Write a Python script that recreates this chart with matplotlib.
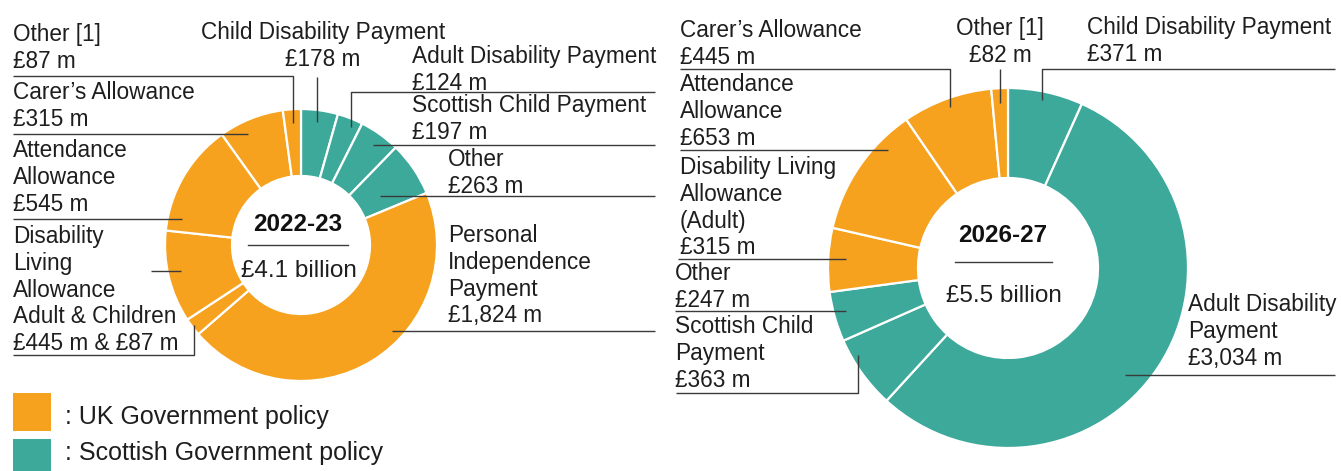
import matplotlib
matplotlib.use("Agg")
import matplotlib.pyplot as plt
from matplotlib.patches import Rectangle

plt.rcParams['font.family'] = ['Liberation Sans', 'DejaVu Sans']

# data, clockwise from 12 o'clock
left_values = [178, 124, 197, 263, 1824, 87, 445, 545, 315, 87]
left_policy = ["SG", "SG", "SG", "SG", "UK", "UK", "UK", "UK", "UK", "UK"]
left_year = "2022-23"
left_total = "£4.1 billion"

right_values = [371, 3034, 363, 247, 315, 653, 445, 82]
right_policy = ["SG", "SG", "SG", "SG", "UK", "UK", "UK", "UK"]
right_year = "2026-27"
right_total = "£5.5 billion"

left_labels = [
    "Other [1]\n£87 m",
    "Child Disability Payment\n£178 m",
    "Adult Disability Payment\n£124 m",
    "Scottish Child Payment\n£197 m",
    "Other\n£263 m",
    "Personal\nIndependence\nPayment\n£1,824 m",
    "Carer\u2019s Allowance\n£315 m",
    "Attendance\nAllowance\n£545 m",
    "Disability\nLiving\nAllowance\nAdult & Children\n£445 m & £87 m",
]
right_labels = [
    "Carer\u2019s Allowance\n£445 m",
    "Other [1]\n£82 m",
    "Child Disability Payment\n£371 m",
    "Attendance\nAllowance\n£653 m",
    "Disability Living\nAllowance\n(Adult)\n£315 m",
    "Other\n£247 m",
    "Scottish Child\nPayment\n£363 m",
    "Adult Disability\nPayment\n£3,034 m",
]
legend_keys = ["UK", "SG"]
legend_labels = [": UK Government policy", ": Scottish Government policy"]

colours = {"UK": "#F6A21E", "SG": "#3DA99B"}
txt = "#1e1e1e"
line_c = "#3a3a3a"

W, H = 1341, 471
fig = plt.figure(figsize=(W / 100, H / 100), dpi=100)
ax = fig.add_axes([0, 0, 1, 1])

# label positions (x, first baseline, ha) and leader lines, pixel coords
left_pos = [(13, 41, "left"), (323, 39, "center"), (412, 63, "left"), (412, 112, "left"),
            (448, 166, "left"), (448, 242, "left"), (13, 99, "left"), (13, 157, "left"),
            (13, 243, "left")]
left_leaders = [
    [(13, 76), (293, 76), (293, 123)],
    [(317, 77), (317, 122)],
    [(655, 92), (351, 92), (351, 127)],
    [(655, 145), (373, 145)],
    [(655, 196), (380, 196)],
    [(655, 331), (392, 331)],
    [(13, 134), (248, 134)],
    [(13, 219), (182, 219)],
    [(151, 271), (181, 271)],
    [(13, 355), (194, 355), (194, 325)],
]
right_pos = [(680, 37, "left"), (1000, 35, "center"), (1087, 34, "left"), (680, 91, "left"),
             (680, 174, "left"), (675, 280, "left"), (675, 333, "left"), (1188, 311, "left")]
right_leaders = [
    [(680, 69), (950, 69), (950, 107)],
    [(1000, 69), (1000, 103)],
    [(1335, 69), (1042, 69), (1042, 100)],
    [(680, 150), (888, 150)],
    [(678, 259), (846, 259)],
    [(675, 311), (846, 311)],
    [(676, 393), (858, 393), (858, 355)],
    [(1125, 375), (1335, 375)],
]
line_step = 26.8


def donut(values, policy, centre, r_out, r_in):
    # y axis is inverted, so startangle -90 is 12 o'clock and ccw draws clockwise
    ax.pie(values, colors=[colours[p] for p in policy], center=centre, radius=r_out,
           startangle=-90, counterclock=True,
           wedgeprops=dict(width=r_out - r_in, edgecolor="white", linewidth=1.6))


donut(left_values, left_policy, (301, 245), 136, 69)
donut(right_values, right_policy, (1008, 268), 180, 90)

for (x, y, ha), s in zip(left_pos + right_pos, left_labels + right_labels):
    for i, row in enumerate(s.split("\n")):
        ax.text(x, y + i * line_step, row, ha=ha, va="baseline", fontsize=16.3, color=txt)

for pts in left_leaders + right_leaders:
    xs, ys = zip(*pts)
    ax.plot(xs, ys, color=line_c, lw=1.0, solid_capstyle="butt")

# centre texts
ax.text(298, 231, left_year, ha="center", va="baseline", fontsize=17.5, fontweight="bold", color="#111111")
ax.plot([248, 348], [245, 245], color=line_c, lw=1.0)
ax.text(299, 277, left_total, ha="center", va="baseline", fontsize=17.5, color=txt)

ax.text(1003, 242, right_year, ha="center", va="baseline", fontsize=17.5, fontweight="bold", color="#111111")
ax.plot([955, 1052], [262, 262], color=line_c, lw=1.0)
ax.text(1004, 302, right_total, ha="center", va="baseline", fontsize=17.5, color=txt)

# legend
legend_y = [(393, 424), (439, 460)]
for key, lab, (y0, yb) in zip(legend_keys, legend_labels, legend_y):
    ax.add_patch(Rectangle((13, y0), 38, 38, facecolor=colours[key], edgecolor="none"))
    ax.text(65, yb, lab, ha="left", va="baseline", fontsize=18, color=txt)

ax.set_xlim(0, W)
ax.set_ylim(H, 0)
ax.set_aspect("equal")
ax.axis("off")

fig.savefig("out.png", dpi=100, facecolor="white")
